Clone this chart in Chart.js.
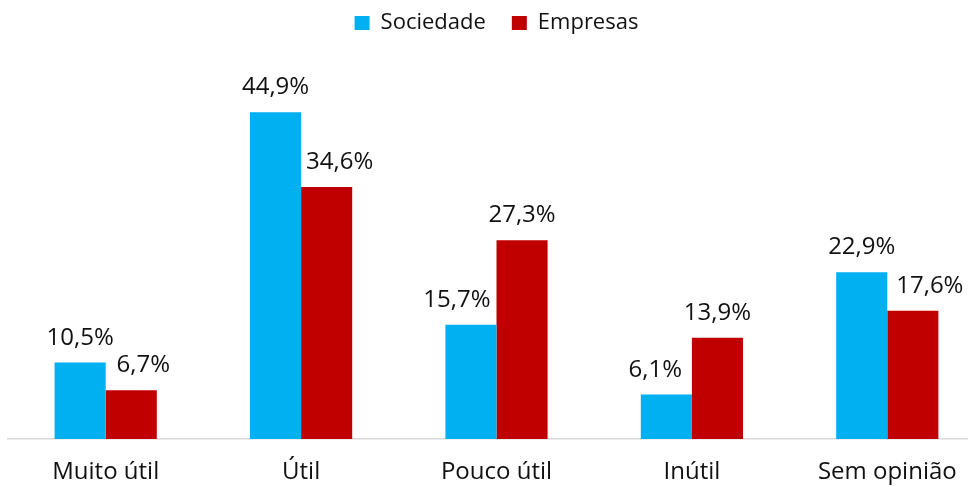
<!DOCTYPE html>
<html>
<head>
<meta charset="utf-8">
<script src="https://cdn.jsdelivr.net/npm/chart.js@4/dist/chart.umd.min.js"></script>
<style>
  html, body { margin: 0; padding: 0; background: #fff; overflow: hidden; }
  #wrap { position: relative; width: 985px; height: 487px; }
</style>
</head>
<body>
<div id="wrap"><canvas id="Chart1"></canvas></div>
<script>
var categorias = ["Muito útil", "Útil", "Pouco útil", "Inútil", "Sem opinião"];
var valoresSociedade = [10.5, 44.9, 15.7, 6.1, 22.9];
var valoresEmpresas = [6.7, 34.6, 27.3, 13.9, 17.6];

function formatPct(v) {
  return v.toFixed(1).replace(".", ",") + "%";
}

// altura fixa da legenda, para colocar a área do gráfico
var legendHeight = {
  id: "legendHeight",
  beforeInit: function (chart) {
    var fit = chart.legend.fit;
    chart.legend.fit = function () {
      fit.bind(chart.legend)();
      this.height = 75;
    };
  },
  afterLayout: function (chart) {
    // sobe a legenda (o padding grande serve só para o espaço entre itens)
    chart.legend.top -= 14;
  },
};

// rótulos de valores por cima das barras
var valueLabels = {
  id: "valueLabels",
  afterDatasetsDraw: function (chart, args, opts) {
    var ctx = chart.ctx;
    var shift = opts.shift || [];
    ctx.save();
    ctx.font = "24px 'Open Sans'";
    ctx.fillStyle = "#111";
    ctx.textAlign = "center";
    ctx.textBaseline = "alphabetic";
    chart.data.datasets.forEach(function (ds, i) {
      var meta = chart.getDatasetMeta(i);
      meta.data.forEach(function (bar, j) {
        var dx = shift[i] ? shift[i][j] : 0;
        ctx.fillText(formatPct(ds.data[j]), bar.x + dx, bar.y - 18);
      });
    });
    ctx.restore();
  },
};

var data = {
  labels: categorias,
  datasets: [
    {
      label: "Sociedade",
      data: valoresSociedade,
      backgroundColor: "#00B0F0",
    },
    {
      label: "Empresas",
      data: valoresEmpresas,
      backgroundColor: "#C00000",
    },
  ],
};

var options = {
  responsive: true,
  maintainAspectRatio: false,
  animation: false,
  layout: { padding: { left: 8, right: 0, top: 0, bottom: 0 } },
  datasets: {
    bar: { barPercentage: 1, categoryPercentage: 0.523 },
  },
  plugins: {
    legend: {
      position: "top",
      labels: {
        font: { family: "'Open Sans'", size: 22 },
        color: "#111",
        boxWidth: 15,
        boxHeight: 14,
        padding: 26,
      },
    },
    tooltip: { enabled: false },
    // deslocamento horizontal dos rótulos que ficariam sobrepostos
    valueLabels: {
      shift: [
        [0, 0, -14, -11, 0],
        [12, 13, 0, 0, 17],
      ],
    },
  },
  scales: {
    x: {
      grid: { display: false, drawTicks: false },
      border: { color: "#d9d9d9", width: 1.5 },
      ticks: {
        font: { family: "'Open Sans'", size: 24 },
        color: "#111",
        padding: 19,
      },
      afterFit: function (scale) {
        scale.height = 48;
      },
    },
    y: {
      display: false,
      min: 0,
      max: 50,
    },
  },
};

var ctx = document.getElementById("Chart1").getContext("2d");
var myChart = new Chart(ctx, {
  type: "bar",
  data: data,
  options: options,
  plugins: [legendHeight, valueLabels],
});
</script>
</body>
</html>
